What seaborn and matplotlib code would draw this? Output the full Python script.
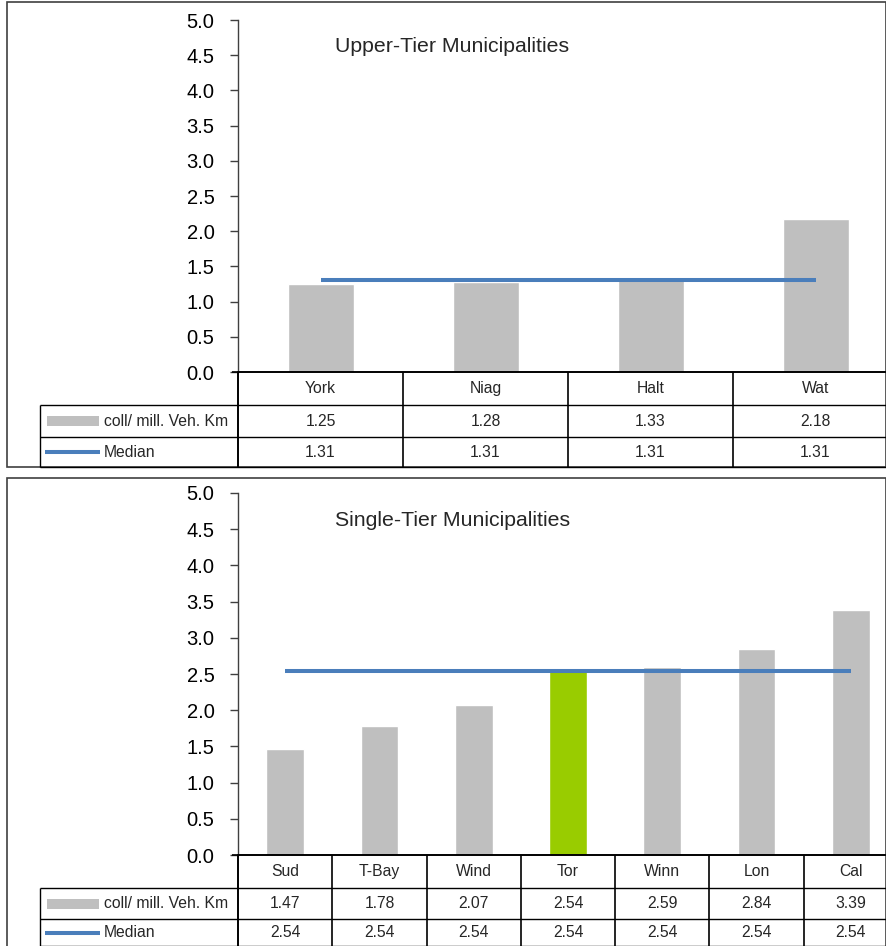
import matplotlib
matplotlib.use("Agg")
import matplotlib.pyplot as plt
from matplotlib.lines import Line2D
from matplotlib.patches import Rectangle
import seaborn as sns
import pandas as pd

sns.set_theme(style="white")
plt.rcParams["font.family"] = ["Liberation Sans", "DejaVu Sans"]

# Upper-tier municipalities
upper_cats = ["York", "Niag", "Halt", "Wat"]
upper_vals = [1.25, 1.28, 1.33, 2.18]
upper_median = [1.31, 1.31, 1.31, 1.31]

# Single-tier municipalities
single_cats = ["Sud", "T-Bay", "Wind", "Tor", "Winn", "Lon", "Cal"]
single_vals = [1.47, 1.78, 2.07, 2.54, 2.59, 2.84, 3.39]
single_median = [2.54, 2.54, 2.54, 2.54, 2.54, 2.54, 2.54]
highlight = "Tor"

y_ticks = [0.0, 0.5, 1.0, 1.5, 2.0, 2.5, 3.0, 3.5, 4.0, 4.5, 5.0]
series_name = "coll/ mill. Veh. Km"
median_name = "Median"

GRAY = "#BFBFBF"
GREEN = "#99CC00"
BLUE = "#4A7EBB"

W, H = 886, 946
fig = plt.figure(figsize=(W / 100, H / 100), dpi=100)

TABLE_FS = 11.3


def fx(px):
    return px / W


def fy(py):
    return 1 - py / H


def fline(x0, y0, x1, y1, color="black", lw=1.0):
    fig.add_artist(Line2D([fx(x0), fx(x1)], [fy(y0), fy(y1)], color=color,
                          lw=lw, transform=fig.transFigure, solid_capstyle="butt"))


def panel(cats, vals, med, title, box, ax_top, ax_bot, rows, bar_width):
    bx0, by0, bx1, by1 = box
    # outer frame
    fig.add_artist(Rectangle((fx(bx0), fy(by1)), fx(bx1) - fx(bx0), fy(by0) - fy(by1),
                             fill=False, edgecolor="#404040", lw=1.2,
                             transform=fig.transFigure))
    ax_l, ax_r = 238, 898
    ax = fig.add_axes([fx(ax_l), fy(ax_bot), fx(ax_r) - fx(ax_l), fy(ax_top) - fy(ax_bot)])
    df = pd.DataFrame({"cat": cats, "val": vals})
    colors = [GREEN if c == highlight else GRAY for c in cats]
    sns.barplot(data=df, x="cat", y="val", hue="cat", palette=colors, legend=False,
                width=bar_width, ax=ax, saturation=1)
    ax.plot(range(len(cats)), med, color=BLUE, lw=2.9, solid_capstyle="butt", zorder=5)
    ax.set_xlim(-0.5, len(cats) - 0.5)
    ax.set_ylim(0, 5.0)
    ax.set_yticks(y_ticks)
    ax.set_yticklabels([f"{t:.1f}" for t in y_ticks], fontsize=14.5, color="black")
    ax.set_xticks([])
    ax.set_xlabel("")
    ax.set_ylabel("")
    ax.tick_params(axis="y", direction="out", length=6, width=1, color="#404040",
                   pad=11, left=True)
    for s in ["top", "right"]:
        ax.spines[s].set_visible(False)
    ax.spines["left"].set_color("#404040")
    ax.spines["left"].set_linewidth(1)
    ax.spines["bottom"].set_color("black")
    ax.spines["bottom"].set_linewidth(1.2)
    ax.text(fx(335 - ax_l) / (fx(ax_r) - fx(ax_l)), 0.925, title, transform=ax.transAxes,
            fontsize=15.3, ha="left", va="center")

    # data table below the axis
    r0, r1, r2, r3 = rows
    n = len(cats)
    cw = (ax_r - ax_l) / n
    fline(232, r0, ax_r, r0, lw=1.2)
    fline(40, r1, ax_r, r1)
    fline(40, r2, ax_r, r2)
    fline(40, r3, ax_r, r3)
    fline(40, r1, 40, r3)
    fline(ax_l, r0, ax_l, r3, lw=1.4)
    for k in range(1, n):
        x = ax_l + k * cw
        fline(x, r0, x, r3, lw=1.2)
    for k, c in enumerate(cats):
        cx = fx(ax_l + (k + 0.5) * cw)
        fig.text(cx, fy((r0 + r1) / 2), c, ha="center", va="center", fontsize=TABLE_FS)
        fig.text(cx, fy((r1 + r2) / 2), f"{vals[k]:.2f}", ha="center", va="center",
                 fontsize=TABLE_FS)
        fig.text(cx, fy((r2 + r3) / 2), f"{med[k]:.2f}", ha="center", va="center",
                 fontsize=TABLE_FS)
    # legend keys
    ym = (r1 + r2) / 2
    fig.add_artist(Rectangle((fx(47), fy(ym + 5)), fx(99) - fx(47), fy(ym - 5) - fy(ym + 5),
                             color=GRAY, transform=fig.transFigure, lw=0))
    fig.text(fx(104), fy(ym), series_name, ha="left", va="center", fontsize=TABLE_FS)
    ym2 = (r2 + r3) / 2
    fline(45, ym2, 100, ym2, color=BLUE, lw=2.9)
    fig.text(fx(104), fy(ym2), median_name, ha="left", va="center", fontsize=TABLE_FS)
    return ax


panel(upper_cats, upper_vals, upper_median, "Upper-Tier Municipalities",
      (7, 2, 886, 467), 20, 372, (372, 405, 437, 467), 0.4)
panel(single_cats, single_vals, single_median, "Single-Tier Municipalities",
      (7, 478, 886, 960), 493, 855, (855, 888, 919, 946), 0.4)

fig.savefig("out.png", dpi=100)
